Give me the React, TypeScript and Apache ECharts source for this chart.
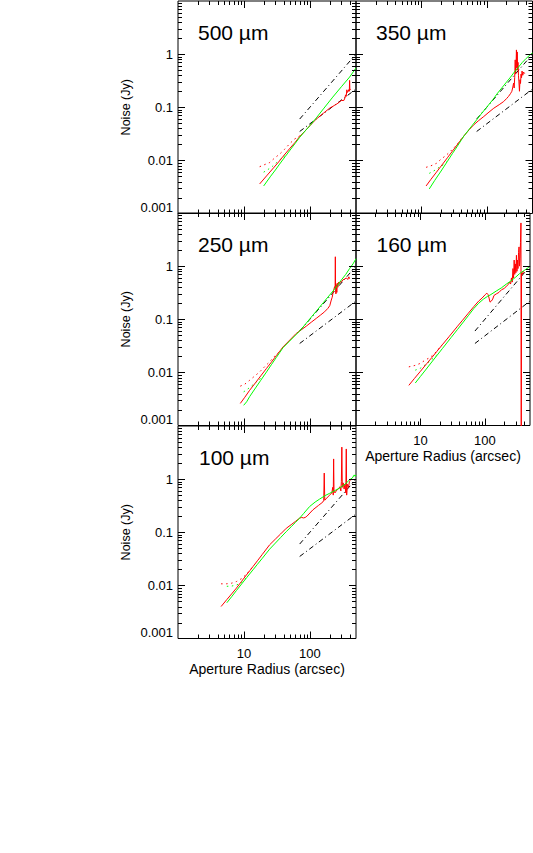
import React, { useEffect, useRef } from 'react';
import * as echarts from 'echarts';

// ---------- data ----------
const panelTitles = ['500 µm', '350 µm', '250 µm', '160 µm', '100 µm'];

const fitUpper = [[70, 0.06], [500, 1.0]];
const fitLower = [[70, 0.035], [500, 0.22]];

// 500 µm
const red500 = [[17.3,0.0036],[22,0.0051],[28,0.0072],[34.7,0.0098],[39,0.0118],[50,0.017],[60,0.022],[69.8,0.028],[85,0.036],[100,0.045],[125,0.06],[160,0.077],[199,0.096],[235,0.108],[266,0.119],[299,0.134],[327,0.134],[340,0.15],[347,0.171],[355,0.16],[363,0.213],[372,0.19],[382,0.2],[390,0.215],[396,0.2],[400,0.32],[404,0.21],[410,0.22]];
const redDot500 = [[17.3,0.0076],[20,0.0082],[24.5,0.0091],[29,0.011],[34.7,0.0131],[41,0.016],[49.2,0.0205],[58,0.025],[69.8,0.029]];
const green500 = [[19.9,0.0033],[25,0.0049],[30,0.0066],[34.7,0.0085],[42,0.0117],[50,0.0156],[60,0.021],[69.8,0.027],[85,0.036],[100,0.045],[125,0.063],[160,0.093],[222,0.155],[300,0.243],[400,0.37],[500,0.55]];
const greenDot500 = [[19.9,0.006],[23,0.0067],[27,0.0077],[32,0.0093],[38,0.0112],[45,0.013]];

// 350 µm
const red350 = [[11.8,0.0033],[14,0.0044],[17,0.006],[20,0.0078],[25,0.0112],[31.6,0.0164],[38,0.0222],[44.9,0.029],[54,0.038],[63.5,0.047],[75,0.056],[90,0.067],[108,0.081],[128,0.096],[155,0.112],[181,0.128],[200,0.145],[215,0.16],[230,0.18],[242,0.2],[250,0.24],[257,0.285],[262,0.23],[267,0.36],[272,0.78],[276,0.42],[280,0.6],[284,1.2],[288,0.55],[292,1.1],[296,0.5],[300,0.7],[305,0.4],[310,0.3],[316,0.2],[322,0.33],[328,0.28],[334,0.42],[340,0.36],[346,0.48],[355,0.4],[365,0.46],[380,0.43]];
const redDot350 = [[11.8,0.0074],[14,0.0079],[17,0.0088],[19.9,0.0105],[24,0.0125],[28.2,0.0151],[34,0.019],[39.9,0.0243],[44.9,0.029]];
const green350 = [[13.2,0.0029],[16,0.0042],[20,0.0063],[25,0.0096],[30,0.0136],[35,0.018],[40,0.0233],[44.9,0.029],[52,0.0365],[60,0.0457],[70,0.058],[80,0.072],[95,0.093],[110,0.116],[125,0.141],[143,0.178],[170,0.232],[200,0.297],[230,0.367],[257,0.44],[300,0.555],[350,0.7],[400,0.83],[459,0.97],[500,1.05]];
const greenDot350 = [[13.2,0.0057],[15,0.0062],[17,0.0068],[19,0.0075],[21.5,0.0082],[25,0.0096]];

// 250 µm
const red250 = [[8.8,0.0026],[10.3,0.0034],[12.2,0.0046],[15,0.0064],[18,0.0086],[22,0.0119],[26,0.0155],[31,0.0207],[35,0.0251],[39,0.03],[48,0.039],[62,0.054],[75,0.064],[88,0.074],[105,0.088],[125,0.104],[145,0.12],[167,0.138],[187,0.16],[200,0.18],[211,0.23],[218,0.26],[224,0.31],[230,0.36],[237,0.41],[241,0.38],[243,1.5],[245,0.36],[248,0.3],[252,0.45],[256,0.32],[260,0.48],[265,0.4],[272,0.5],[282,0.47],[292,0.52],[300,0.5],[316,0.55],[335,0.57],[357,0.6],[375,0.56],[390,0.63],[400,0.58]];
const redDot250 = [[8.8,0.0055],[10.3,0.006],[12.2,0.0071],[14.5,0.0085],[17.3,0.0102],[20.5,0.0127],[24.5,0.0158],[29,0.02],[34.7,0.0248]];
const green250 = [[9.9,0.0024],[11,0.0028],[12.2,0.0035],[15,0.0051],[18,0.0071],[22,0.0102],[26,0.0139],[31,0.0191],[35,0.0238],[39,0.029],[48,0.0376],[60,0.0497],[70,0.06],[85,0.08],[100,0.102],[125,0.142],[160,0.206],[224,0.34],[260,0.43],[300,0.55],[350,0.7],[400,0.9],[450,1.1],[500,1.38]];
const greenDot250 = [[9.9,0.0043],[11,0.0047],[12.5,0.0053],[14.5,0.0062],[17,0.0073],[20,0.0086]];

// 160 µm
const red160 = [[6.6,0.0057],[8,0.0076],[10,0.0105],[12.5,0.0146],[15,0.019],[18,0.0249],[22,0.0335],[28,0.0477],[37.6,0.074],[45,0.096],[55,0.129],[67.5,0.174],[80,0.22],[90,0.25],[101,0.29],[107,0.31],[112,0.29],[116,0.25],[120,0.21],[126,0.22],[132,0.24],[138,0.28],[150,0.3],[165,0.32],[181,0.36],[200,0.38],[215,0.42],[230,0.45],[242,0.5],[250,0.46],[258,0.6],[265,0.5],[272,0.9],[278,0.6],[284,1.3],[290,0.7],[296,1.1],[302,0.75],[308,1.6],[314,0.8],[320,1.3],[326,0.9],[332,1.8],[338,2.3],[344,1.0],[350,1.4],[356,2.8],[362,6.5],[366,0.00001],[369,0.75],[380,0.7],[392,0.8],[405,0.75]];
const redDot160 = [[6.6,0.0127],[8.2,0.0135],[10,0.0148],[11.8,0.017],[14,0.019],[16.6,0.0227],[20,0.0296],[23.7,0.0373]];
const green160 = [[8.3,0.0063],[10,0.0084],[12,0.0111],[15,0.0157],[18,0.0208],[22,0.0283],[30,0.0456],[37.6,0.0645],[45,0.085],[55,0.116],[67.5,0.16],[80,0.2],[95,0.24],[110,0.27],[120,0.285],[150,0.34],[180,0.39],[215,0.46],[250,0.52],[300,0.62],[343,0.72],[400,0.82],[450,0.9],[500,1.0]];
const greenDot160 = [[8.3,0.011],[10,0.012],[12.5,0.0145],[15,0.0175],[19,0.0226]];

// 100 µm
const red100 = [[4.5,0.004],[5.5,0.0054],[6.5,0.0069],[7.7,0.0089],[9.2,0.0119],[10.9,0.0157],[12.3,0.019],[13.7,0.0226],[16,0.029],[19,0.0384],[24.5,0.058],[30,0.0744],[36,0.093],[43.9,0.119],[52,0.139],[60,0.159],[69.8,0.184],[75,0.19],[80,0.186],[85,0.19],[90,0.2],[100,0.23],[111,0.264],[135,0.32],[157,0.37],[162,0.4],[165,1.3],[168,0.4],[180,0.44],[199,0.5],[215,0.55],[222,0.7],[226,0.5],[229,2.4],[232,0.6],[240,0.55],[255,0.62],[270,0.65],[285,0.72],[295,0.6],[300,0.9],[305,4.0],[310,0.7],[320,0.85],[330,0.65],[340,0.8],[350,0.55],[356,3.7],[361,0.5],[370,0.8],[385,0.7],[398,0.9],[410,0.95]];
const redDot100 = [[4.5,0.0107],[5.4,0.0107],[6.5,0.011],[7.7,0.0118],[9.2,0.0134],[10.9,0.0162],[12.3,0.0192],[13.7,0.0226]];
const green100 = [[5.5,0.0047],[6.5,0.0061],[7.7,0.008],[9.2,0.0106],[11,0.014],[13.7,0.0196],[16,0.0249],[19,0.0324],[24.5,0.048],[30,0.0626],[36,0.0795],[43.9,0.103],[52,0.127],[60,0.152],[69.8,0.184],[80,0.224],[99,0.305],[120,0.37],[140,0.42],[170,0.49],[199,0.54],[240,0.61],[282,0.68],[340,0.8],[400,0.97],[440,1.05],[470,1.2],[485,1.13],[500,1.2]];
const greenDot100 = [[5.5,0.0096],[6.5,0.0097],[7.8,0.0102],[9.2,0.0114],[11,0.014]];

const redSolid = [red500, red350, red250, red160, red100];
const redDotted = [redDot500, redDot350, redDot250, redDot160, redDot100];
const greenSolid = [green500, green350, green250, green160, green100];
const greenDotted = [greenDot500, greenDot350, greenDot250, greenDot160, greenDot100];

// axis ticks / labels
const xTickValues = [2,3,4,5,6,7,8,9,10,20,30,40,50,60,70,80,90,100,200,300,400];
const xMajorTicks = [10, 100];
const yTickValues = [0.002,0.003,0.004,0.005,0.006,0.007,0.008,0.009,0.01,0.02,0.03,0.04,0.05,0.06,0.07,0.08,0.09,0.1,0.2,0.3,0.4,0.5,0.6,0.7,0.8,0.9,1,2,3,4,5,6,7,8,9];
const yMajorTicks = [0.01, 0.1, 1];
const xLabelValues = [10, 100];
const xLabelTexts = ['10', '100'];
const yLabelValues = [0.001, 0.01, 0.1, 1];
const yLabelTexts = ['0.001', '0.01', '0.1', '1'];

// ---------- layout ----------
const FONT = 'Liberation Sans, Arial, Helvetica, sans-serif';
const gridLeft = [178, 356, 178, 356, 178];
const gridTop = [1, 1, 213, 213, 426];
const gridWidth = [178, 176.5, 178, 176.5, 178];
const gridHeight = 212.5;
const showXLabels = [false, false, false, true, true];
const showYLabels = [true, false, true, false, true];
const titlePos = [[198, 32], [376, 32], [198, 244], [376.5, 244], [199, 457]];

const isIn = (list: number[], v: number) => list.some((t) => Math.abs(v / t - 1) < 1e-6);
const labelFmt = (vals: number[], texts: string[]) => (v: number) => {
  for (let i = 0; i < vals.length; i++) if (Math.abs(v / vals[i] - 1) < 1e-6) return texts[i];
  return '';
};

function buildOption() {
  const grid: any[] = [];
  const xAxis: any[] = [];
  const yAxis: any[] = [];
  const series: any[] = [];
  const graphic: any[] = [];
  for (let i = 0; i < 5; i++) {
    grid.push({
      left: gridLeft[i], top: gridTop[i], width: gridWidth[i], height: gridHeight,
      show: true, borderColor: '#000', borderWidth: 1, backgroundColor: 'transparent',
    });
    xAxis.push({
      gridIndex: i, type: 'log', logBase: 10, min: 1, max: 500,
      axisLine: { show: false }, axisTick: { show: false }, splitLine: { show: false },
      axisLabel: {
        show: showXLabels[i], formatter: labelFmt(xLabelValues, xLabelTexts),
        fontSize: 13, color: '#000', fontFamily: FONT, margin: 8,
      },
      name: showXLabels[i] ? 'Aperture Radius (arcsec)' : '',
      nameLocation: 'middle', nameGap: 23, nameMoveOverlap: false,
      nameTextStyle: { fontSize: 14, color: '#000', fontFamily: FONT },
    });
    yAxis.push({
      gridIndex: i, type: 'log', logBase: 10, min: 0.001, max: 10,
      axisLine: { show: false }, axisTick: { show: false }, splitLine: { show: false },
      axisLabel: {
        show: showYLabels[i], formatter: labelFmt(yLabelValues, yLabelTexts),
        fontSize: 13, color: '#000', fontFamily: FONT, margin: 5,
        verticalAlignMinLabel: 'bottom',
      },
      name: showYLabels[i] ? 'Noise (Jy)' : '',
      nameLocation: 'middle', nameGap: 46, nameMoveOverlap: false,
      nameTextStyle: { fontSize: 12.5, color: '#000', fontFamily: FONT },
    });

    const line = (data: number[][], color: string, type: any, z: number) => ({
      type: 'line', xAxisIndex: i, yAxisIndex: i, data, symbol: 'none', showSymbol: false,
      lineStyle: { color, width: 1, type }, silent: true, z, clip: true,
    });
    series.push(line(fitUpper, '#000', [5, 3, 1, 3], 2));
    series.push(line(fitLower, '#000', [5, 3, 1, 3], 2));
    series.push(line(redDotted[i], '#ff0000', [1.5, 3.5], 3));
    series.push(line(greenDotted[i], '#00ff00', [1.5, 3.5], 3));
    series.push(line(redSolid[i], '#ff0000', 'solid', 4));
    series.push(line(greenSolid[i], '#00ff00', 'solid', 5));

    series.push({
      type: 'custom', coordinateSystem: 'cartesian2d', xAxisIndex: i, yAxisIndex: i,
      data: xTickValues.map((v) => [v, 1, isIn(xMajorTicks, v) ? 1 : 0]),
      encode: { x: 0, y: 1 }, silent: true, clip: false, z: 6,
      renderItem: (params: any, api: any) => {
        const v = api.value(0);
        const len = api.value(2) === 1 ? 7 : 4;
        const x = Math.round(api.coord([v, 1])[0]) + 0.5;
        const cs = params.coordSys;
        const st = { stroke: '#000', lineWidth: 1 };
        const b = cs.y + cs.height;
        return {
          type: 'group', children: [
            { type: 'line', shape: { x1: x, y1: b, x2: x, y2: b - len }, style: st },
            { type: 'line', shape: { x1: x, y1: cs.y, x2: x, y2: cs.y + len }, style: st },
          ],
        };
      },
    });
    series.push({
      type: 'custom', coordinateSystem: 'cartesian2d', xAxisIndex: i, yAxisIndex: i,
      data: yTickValues.map((v) => [1, v, isIn(yMajorTicks, v) ? 1 : 0]),
      encode: { x: 0, y: 1 }, silent: true, clip: false, z: 6,
      renderItem: (params: any, api: any) => {
        const v = api.value(1);
        const len = api.value(2) === 1 ? 7 : 4;
        const y = Math.round(api.coord([1, v])[1]) + 0.5;
        const cs = params.coordSys;
        const st = { stroke: '#000', lineWidth: 1 };
        const r = cs.x + cs.width;
        return {
          type: 'group', children: [
            { type: 'line', shape: { x1: cs.x, y1: y, x2: cs.x + len, y2: y }, style: st },
            { type: 'line', shape: { x1: r, y1: y, x2: r - len, y2: y }, style: st },
          ],
        };
      },
    });

    graphic.push({
      type: 'text', x: titlePos[i][0], y: titlePos[i][1], silent: true,
      style: {
        text: panelTitles[i], fontSize: 21, fontFamily: FONT, fill: '#000',
        textAlign: 'left', textVerticalAlign: 'middle', align: 'left', verticalAlign: 'middle',
      },
    });
  }
  return { animation: false, backgroundColor: '#fff', grid, xAxis, yAxis, series, graphic };
}

export default function App() {
  const ref = useRef<HTMLDivElement>(null);
  useEffect(() => {
    if (!ref.current) return;
    const chart = echarts.init(ref.current, undefined, { renderer: 'svg' });
    chart.setOption(buildOption() as any);
    return () => chart.dispose();
  }, []);
  return (
    <div
      ref={ref}
      style={{ position: 'absolute', left: 0, top: 0, width: 533, height: 853, background: '#fff' }}
    />
  );
}
